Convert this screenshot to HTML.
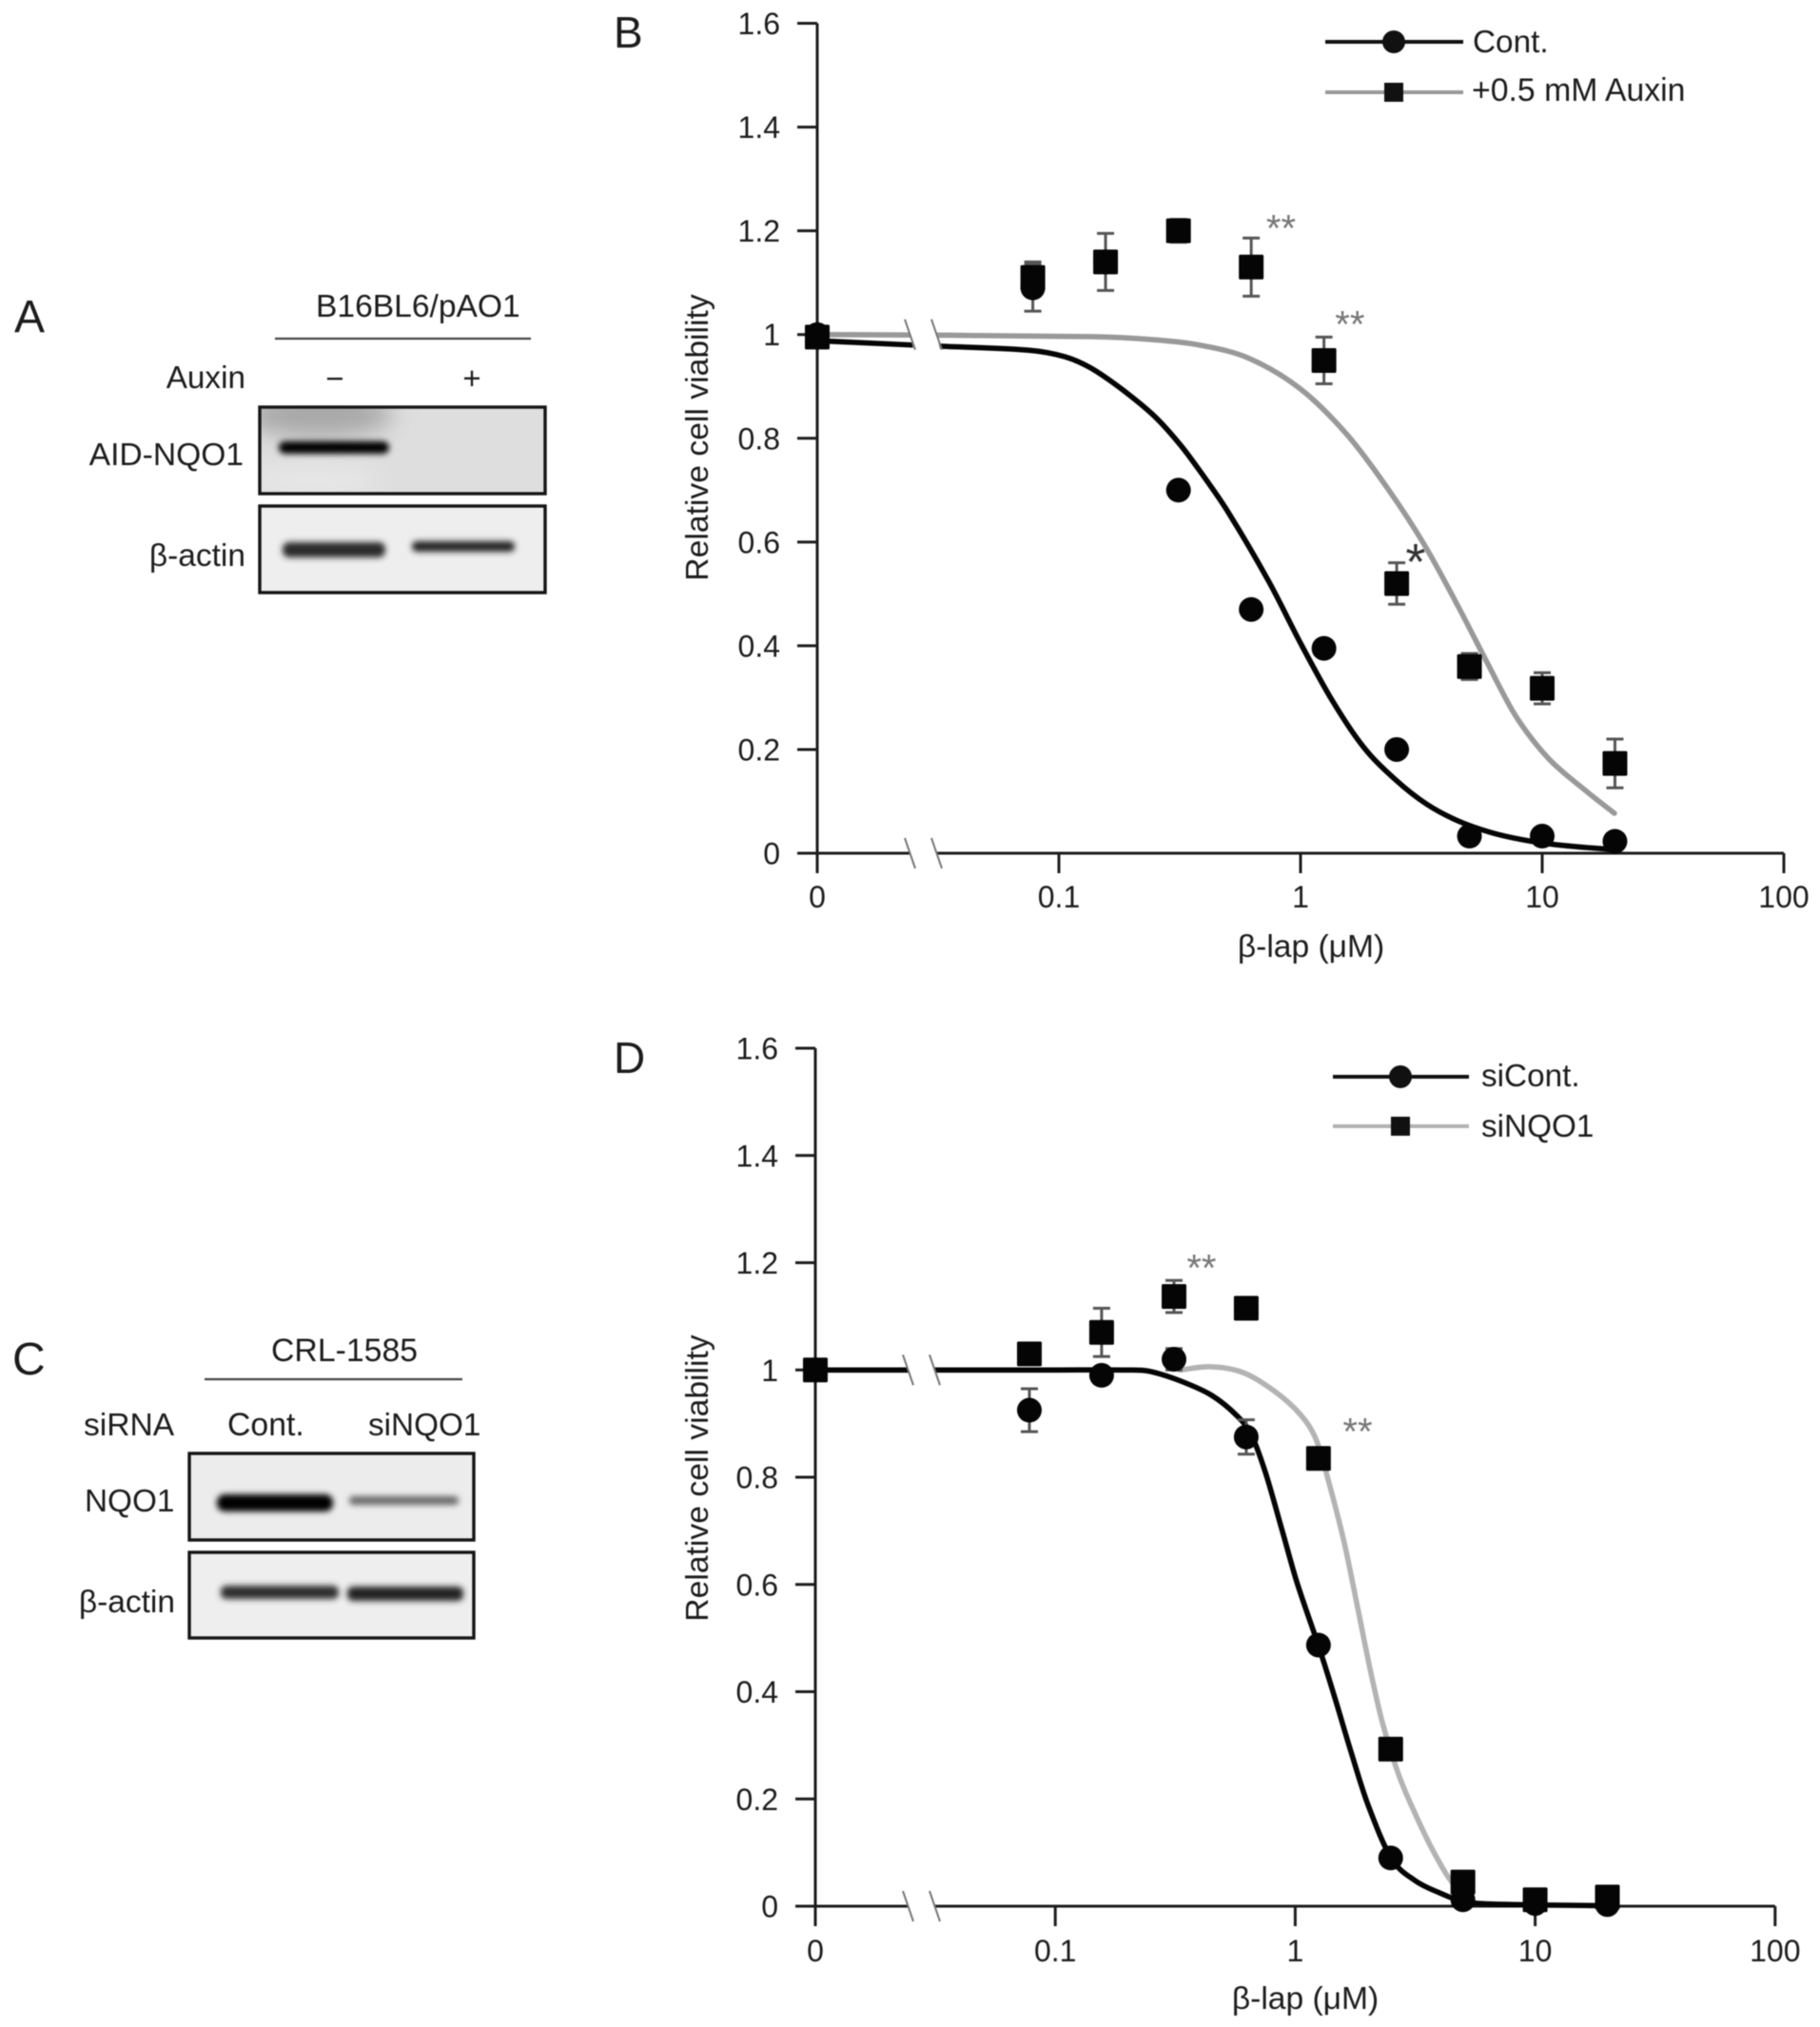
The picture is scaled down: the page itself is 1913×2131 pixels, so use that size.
<!DOCTYPE html>
<html lang="en">
<head>
<meta charset="utf-8">
<title>Relative cell viability after β-lap treatment</title>
<style>
html,body{margin:0;padding:0;background:#fff;width:1913px;height:2131px;overflow:hidden}
svg{display:block;filter:blur(.55px)}
text{font-family:"Liberation Sans",Arial,sans-serif;fill:#1c1c1c}
</style>
</head>
<body>
<svg id="figure" xmlns="http://www.w3.org/2000/svg" width="1913" height="2131" viewBox="0 0 1913 2131">
<defs>
<filter id="b1" x="-20%" y="-100%" width="140%" height="300%"><feGaussianBlur stdDeviation="3.2"/></filter>
<filter id="b2" x="-30%" y="-150%" width="160%" height="400%"><feGaussianBlur stdDeviation="12"/></filter>
<clipPath id="clipA1"><rect x="273" y="427" width="301" height="92"/></clipPath>
<clipPath id="clipA2"><rect x="273" y="530" width="301" height="93"/></clipPath>
<clipPath id="clipC1"><rect x="198" y="1527" width="301" height="92"/></clipPath>
<clipPath id="clipC2"><rect x="198" y="1630" width="301" height="92"/></clipPath>
</defs>
<rect width="1913" height="2131" fill="#fff"/>

<!-- Panel A -->
<g>
<text x="15" y="349" font-size="48">A</text>
<text x="332" y="333" font-size="33.6">B16BL6/pAO1</text>
<line x1="289" y1="356" x2="558" y2="356" stroke="#444" stroke-width="2.2"/>
<text x="258" y="408" font-size="33.3" text-anchor="end">Auxin</text>
<text x="352" y="409" font-size="33" text-anchor="middle">−</text>
<text x="496" y="409" font-size="33" text-anchor="middle">+</text>
<text x="256" y="489" font-size="33.6" text-anchor="end">AID-NQO1</text>
<text x="258" y="595" font-size="33.5" text-anchor="end">β-actin</text>
<g clip-path="url(#clipA1)">
<rect x="273" y="427" width="301" height="92" fill="#dedede"/>
<ellipse cx="335" cy="436" rx="78" ry="24" fill="#a8a8a8" filter="url(#b2)"/>
<ellipse cx="330" cy="505" rx="70" ry="14" fill="#e8e8e8" filter="url(#b2)"/>
<rect x="293" y="464" width="116" height="13" rx="6.5" fill="#000" filter="url(#b1)"/>
</g>
<rect x="273" y="428" width="300" height="91" fill="none" stroke="#151515" stroke-width="3.4"/>
<g clip-path="url(#clipA2)">
<rect x="273" y="530" width="301" height="93" fill="#eeeeee"/>
<rect x="297" y="570" width="108" height="16" rx="7" fill="#2c2c2c" filter="url(#b1)"/>
<rect x="433" y="569" width="108" height="11" rx="5" fill="#222" filter="url(#b1)"/>
</g>
<rect x="273" y="532" width="300" height="91" fill="none" stroke="#151515" stroke-width="3.4"/>
</g>

<!-- Panel C -->
<g>
<text x="13" y="1445" font-size="48">C</text>
<text x="285" y="1431" font-size="33.8">CRL-1585</text>
<line x1="215" y1="1450" x2="486" y2="1450" stroke="#444" stroke-width="2.2"/>
<text x="88" y="1509" font-size="33.6">siRNA</text>
<text x="239" y="1509" font-size="33.8">Cont.</text>
<text x="387" y="1509" font-size="33.3">siNQO1</text>
<text x="89" y="1589" font-size="33.3">NQO1</text>
<text x="184" y="1695" font-size="33.5" text-anchor="end">β-actin</text>
<g clip-path="url(#clipC1)">
<rect x="198" y="1527" width="301" height="92" fill="#ececec"/>
<rect x="228" y="1571" width="122" height="18" rx="8" fill="#000" filter="url(#b1)"/>
<rect x="367" y="1573" width="115" height="9" rx="4" fill="#666" filter="url(#b1)"/>
</g>
<rect x="199" y="1528" width="299" height="91" fill="none" stroke="#151515" stroke-width="3.4"/>
<g clip-path="url(#clipC2)">
<rect x="198" y="1630" width="301" height="92" fill="#eeeeee"/>
<rect x="232" y="1667" width="124" height="14" rx="6" fill="#2e2e2e" filter="url(#b1)"/>
<rect x="365" y="1668" width="122" height="15" rx="6" fill="#222" filter="url(#b1)"/>
</g>
<rect x="199" y="1632" width="299" height="90" fill="none" stroke="#151515" stroke-width="3.4"/>
</g>

<!-- Panel letters and legends for charts -->
<text x="645" y="50" font-size="46">B</text>
<text x="645" y="1128" font-size="46">D</text>

<g id="chartB"></g>
<g id="chartD"></g>

<g>
<line x1="1393" y1="44" x2="1538" y2="44" stroke="#111" stroke-width="4"/>
<circle cx="1465" cy="44" r="12" fill="#111"/>
<text x="1548" y="55" font-size="33.3">Cont.</text>
<line x1="1393" y1="97" x2="1538" y2="97" stroke="#999" stroke-width="4"/>
<rect x="1455" y="87" width="20" height="20" fill="#111"/>
<text x="1547" y="106" font-size="33.8">+0.5 mM Auxin</text>
</g>
<g>
<line x1="1401" y1="1132" x2="1544" y2="1132" stroke="#111" stroke-width="4"/>
<circle cx="1472" cy="1132" r="12" fill="#111"/>
<text x="1557" y="1142" font-size="33.3">siCont.</text>
<line x1="1401" y1="1184" x2="1544" y2="1184" stroke="#b3b3b3" stroke-width="4"/>
<rect x="1462" y="1174" width="20" height="20" fill="#111"/>
<text x="1557" y="1195" font-size="33.3">siNQO1</text>
</g>
</svg>

<script>
// Shared axes
var xTickValues = [0, 0.1, 1, 10, 100];
var xTickLabels = ['0', '0.1', '1', '10', '100'];
var yTickValues = [0, 0.2, 0.4, 0.6, 0.8, 1, 1.2, 1.4, 1.6];
var yTickLabels = ['0', '0.2', '0.4', '0.6', '0.8', '1', '1.2', '1.4', '1.6'];
var doses = [0, 0.078, 0.156, 0.3125, 0.625, 1.25, 2.5, 5, 10, 20];

// Panel B: measured points
var bContMeans = [1, 1.09, 1.14, 0.70, 0.47, 0.395, 0.20, 0.033, 0.033, 0.023];
var bContErrors = [0, 0.045, 0, 0, 0, 0, 0, 0, 0, 0];
var bAuxinMeans = [0.995, 1.11, 1.14, 1.20, 1.13, 0.95, 0.52, 0.36, 0.318, 0.173];
var bAuxinErrors = [0, 0.03, 0.055, 0.022, 0.056, 0.045, 0.04, 0.025, 0.03, 0.047];
// Panel B: fitted curves
var bContCurveDoses = [0, 0.03, 0.074, 0.106, 0.136, 0.184, 0.248, 0.316, 0.39, 0.498, 0.735, 1, 1.35, 1.82, 2.48, 3.34, 4.5, 6.13, 8.27, 11.1, 15.2, 19.9];
var bContCurveValues = [0.988, 0.978, 0.970, 0.957, 0.935, 0.893, 0.843, 0.789, 0.732, 0.66, 0.526, 0.405, 0.295, 0.205, 0.141, 0.094, 0.062, 0.04, 0.026, 0.017, 0.011, 0.007];
var bAuxinCurveDoses = [0, 0.136, 0.248, 0.39, 0.613, 1, 1.57, 2.32, 3.25, 4.5, 5.91, 7.76, 10.6, 15.2, 19.9];
var bAuxinCurveValues = [1, 0.996, 0.99, 0.979, 0.954, 0.895, 0.805, 0.70, 0.595, 0.475, 0.368, 0.265, 0.183, 0.12, 0.077];
// Panel B: significance marks
var bSigDoses = [0.83, 1.6, 2.99];
var bSigValues = [1.214, 1.029, 0.574];
var bSigMarks = ['**', '**', '*'];

// Panel D: measured points
var dContMeans = [1, 0.925, 0.99, 1.02, 0.875, 0.487, 0.09, 0.012, 0.005, 0.003];
var dContErrors = [0, 0.04, 0, 0.02, 0.032, 0, 0, 0, 0, 0];
var dSiMeans = [1, 1.03, 1.07, 1.137, 1.115, 0.835, 0.293, 0.045, 0.012, 0.017];
var dSiErrors = [0, 0, 0.045, 0.03, 0, 0, 0, 0, 0, 0];
// Panel D: fitted curves
var dContCurveDoses = [0, 0.1, 0.2, 0.244, 0.33, 0.447, 0.571, 0.655, 0.75, 0.877, 1.015, 1.25, 1.46, 1.71, 2.0, 2.51, 3.15, 3.99, 4.97, 6.53, 19.4];
var dContCurveValues = [1, 1, 1, 0.998, 0.98, 0.953, 0.915, 0.88, 0.81, 0.705, 0.605, 0.486, 0.39, 0.287, 0.192, 0.09, 0.048, 0.025, 0.009, 0.004, 0.001];
var dSiCurveDoses = [0.33, 0.447, 0.608, 0.822, 1.05, 1.22, 1.38, 1.60, 1.82, 2.05, 2.31, 2.69, 3.15, 3.78, 4.54, 5.44];
var dSiCurveValues = [1, 1.006, 0.995, 0.96, 0.917, 0.871, 0.791, 0.678, 0.557, 0.443, 0.342, 0.247, 0.174, 0.101, 0.043, 0.018];
// Panel D: significance marks
var dSigDoses = [0.407, 1.82];
var dSigValues = [1.199, 0.894];
var dSigMarks = ['**', '**'];

var NS = 'http://www.w3.org/2000/svg';
function mk(parent, tag, attrs, content) {
  var el = document.createElementNS(NS, tag);
  for (var k in attrs) el.setAttribute(k, attrs[k]);
  if (content !== undefined) el.textContent = content;
  parent.appendChild(el);
  return el;
}
function smoothPath(pts) {
  var d = 'M' + pts[0][0].toFixed(1) + ' ' + pts[0][1].toFixed(1);
  for (var i = 0; i < pts.length - 1; i++) {
    var p0 = pts[i - 1] || pts[i], p1 = pts[i], p2 = pts[i + 1], p3 = pts[i + 2] || p2;
    var t = (p2[0] - p1[0]) / 3;
    var m1 = (p2[1] - p0[1]) / Math.max(p2[0] - p0[0], 1);
    var m2 = (p3[1] - p1[1]) / Math.max(p3[0] - p1[0], 1);
    d += 'C' + (p1[0] + t).toFixed(1) + ' ' + (p1[1] + m1 * t).toFixed(1) + ' ' +
         (p2[0] - t).toFixed(1) + ' ' + (p2[1] - m2 * t).toFixed(1) + ' ' +
         p2[0].toFixed(1) + ' ' + p2[1].toFixed(1);
  }
  return d;
}

function drawChart(c) {
  var g = document.getElementById(c.id);
  // 0 on the axis sits one decade left of 0.1
  function X(v) { return c.x01 + c.decade * (Math.log(Math.max(v, 0.01) / 0.1) / Math.LN10); }
  function Y(v) { return c.y0 - v * c.yUnit; }
  var x0 = X(0), xEnd = X(100), yBase = Y(0), yTop = Y(1.6);
  var axisColor = '#1c1c1c';

  var yAxis = mk(g, 'line', {x1: x0, y1: yTop, x2: x0, y2: yBase + 21, stroke: axisColor, 'stroke-width': 3});
  
  
  var xAxis = mk(g, 'line', {x1: x0 - 21, y1: yBase, x2: xEnd, y2: yBase, stroke: axisColor, 'stroke-width': 3});
  
  

  yTickValues.forEach(function (v, i) {
    if (v !== 0) {
      var t = mk(g, 'line', {x1: x0 - 21, y1: Y(v), x2: x0, y2: Y(v), stroke: axisColor, 'stroke-width': 3});
      
      
    }
    var lab = mk(g, 'text', {x: x0 - 39, y: Y(v) + 11.5, 'font-size': 32, 'text-anchor': 'end'}, yTickLabels[i]);
    
    
  });
  xTickValues.forEach(function (v, i) {
    if (v !== 0) {
      var t = mk(g, 'line', {x1: X(v), y1: yBase, x2: X(v), y2: yBase + 21, stroke: axisColor, 'stroke-width': 3});
      
      
    }
    var lab = mk(g, 'text', {x: X(v), y: yBase + c.xLabelDy, 'font-size': 32, 'text-anchor': 'middle'}, xTickLabels[i]);
    
    
  });

  var xt = mk(g, 'text', {x: c.xTitleX, y: c.xTitleY, 'font-size': 33.6, 'text-anchor': 'middle'}, 'β-lap (μM)');
  
  
  var yt = mk(g, 'text', {transform: 'translate(' + c.yTitleX + ' ' + c.yTitleY + ') rotate(-90)', 'font-size': 33.7, 'text-anchor': 'middle'}, 'Relative cell viability');
  
  

  // Fitted curves
  function curve(ds, vs, color, name) {
    var pts = ds.map(function (d, i) { return [X(d), Y(vs[i])]; });
    var p = mk(g, 'path', {d: smoothPath(pts), fill: 'none', stroke: color, 'stroke-width': 5.6, 'stroke-linecap': 'round'});
    
    
  }
  curve(c.curve2Doses, c.curve2Values, c.grey, 'curve-' + c.name2);
  curve(c.curve1Doses, c.curve1Values, '#050505', 'curve-' + c.name1);

  // Axis break
  var bx = x0 + 96;
  [Y(1), yBase].forEach(function (by, i) {
    var gap = mk(g, 'polygon', {
      points: (bx - 4) + ',' + (by - 18) + ' ' + (bx + 24) + ',' + (by - 18) + ' ' + (bx + 34) + ',' + (by + 18) + ' ' + (bx + 6) + ',' + (by + 18),
      fill: '#fff'
    });
    
    
    var s1 = mk(g, 'line', {x1: bx - 4, y1: by - 16, x2: bx + 7, y2: by + 16, stroke: '#777', 'stroke-width': 2});
    
    
    var s2 = mk(g, 'line', {x1: bx + 24, y1: by - 16, x2: bx + 35, y2: by + 16, stroke: '#777', 'stroke-width': 2});
    
    
  });

  // Error bars then markers
  function errors(means, errs, name) {
    doses.forEach(function (d, i) {
      if (!errs[i]) return;
      var px = X(d), top = Y(means[i] + errs[i]), bot = Y(means[i] - errs[i]);
      var e = mk(g, 'path', {
        d: 'M' + px + ' ' + top + 'V' + bot + 'M' + (px - 9) + ' ' + top + 'H' + (px + 9) + 'M' + (px - 9) + ' ' + bot + 'H' + (px + 9),
        fill: 'none', stroke: '#555', 'stroke-width': 3
      });
      
      
    });
  }
  errors(c.means1, c.errors1, c.name1);
  errors(c.means2, c.errors2, c.name2);

  doses.forEach(function (d, i) {
    var m = mk(g, 'circle', {cx: X(d), cy: Y(c.means1[i]), r: 13, fill: '#050505'});
    
    
  });
  doses.forEach(function (d, i) {
    var m = mk(g, 'rect', {x: X(d) - 13, y: Y(c.means2[i]) - 13, width: 26, height: 26, rx: 1.5, fill: '#050505'});
    
    
  });

  // Significance marks
  c.sigMarks.forEach(function (mark, i) {
    var single = mark.length === 1;
    var size = single ? 54 : 40;
    var s = mk(g, 'text', {
      x: X(c.sigDoses[i]), y: Y(c.sigValues[i]) + size * 0.46,
      'font-size': size, 'text-anchor': 'middle'
    }, mark);
    
    
    s.style.fill = single ? '#333' : '#777';
  });
}

drawChart({
  id: 'chartB', name1: 'cont', name2: 'auxin', grey: '#999',
  x01: 1113, decade: 254, y0: 897, yUnit: 545.3,
  xLabelDy: 57, xTitleX: 1378, xTitleY: 1006, yTitleX: 744, yTitleY: 460,
  means1: bContMeans, errors1: bContErrors, means2: bAuxinMeans, errors2: bAuxinErrors,
  curve1Doses: bContCurveDoses, curve1Values: bContCurveValues,
  curve2Doses: bAuxinCurveDoses, curve2Values: bAuxinCurveValues,
  sigDoses: bSigDoses, sigValues: bSigValues, sigMarks: bSigMarks
});
drawChart({
  id: 'chartD', name1: 'sicont', name2: 'sinqo1', grey: '#b3b3b3',
  x01: 1109.2, decade: 252.2, y0: 2004, yUnit: 563.75,
  xLabelDy: 58, xTitleX: 1372, xTitleY: 2112, yTitleX: 744, yTitleY: 1554,
  means1: dContMeans, errors1: dContErrors, means2: dSiMeans, errors2: dSiErrors,
  curve1Doses: dContCurveDoses, curve1Values: dContCurveValues,
  curve2Doses: dSiCurveDoses, curve2Values: dSiCurveValues,
  sigDoses: dSigDoses, sigValues: dSigValues, sigMarks: dSigMarks
});
</script>
</body>
</html>
